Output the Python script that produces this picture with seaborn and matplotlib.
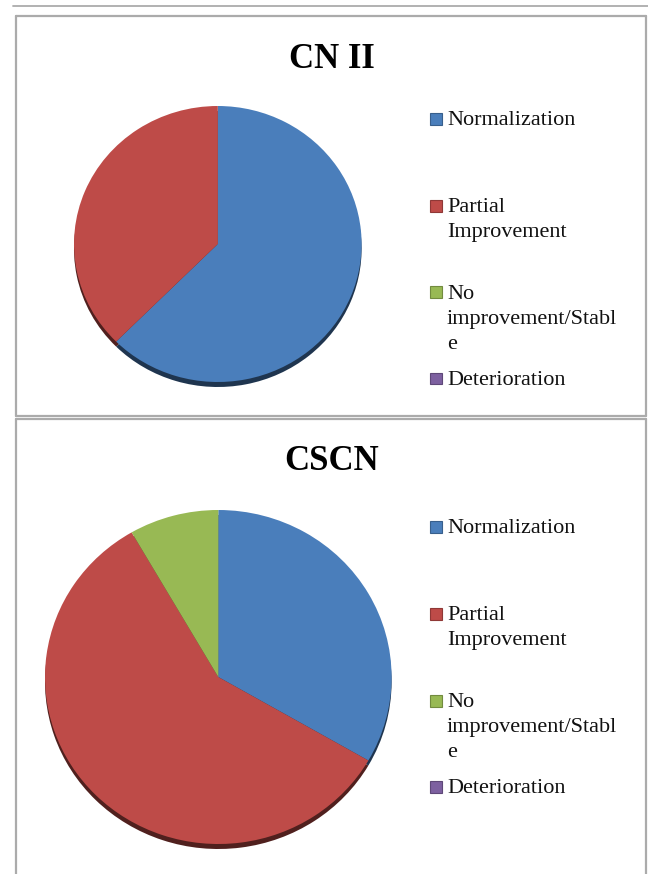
import matplotlib
matplotlib.use("Agg")
import matplotlib.pyplot as plt
from matplotlib.patches import Rectangle
from matplotlib.lines import Line2D
import seaborn as sns

# ── Data ──────────────────────────────────────────────
categories = ["Normalization", "Partial Improvement",
              "No improvement/Stable", "Deterioration"]
legend_lines = [["Normalization"],
                ["Partial", "Improvement"],
                ["No", "improvement/Stabl", "e"],
                ["Deterioration"]]
titles = ["CN II", "CSCN"]
cn2_values = [5, 3, 0, 0]
cscn_values = [4, 7, 1, 0]

# ── Layout (pixels) ───────────────────────────────────
W, H = 648, 874
PIE_BOX = [(217.8, 244, 143.8, 138), (218.3, 677, 173.3, 167)]  # cx, cy, rx, ry
TITLE_BASE = [67.5, 470]
LEGEND_Y = [[118, 205, 292, 378], [526, 613, 700, 786]]
BORDER = "#ABABAB"

sns.set_theme(style="white")
plt.rcParams["font.family"] = ["Liberation Serif", "DejaVu Serif"]
palette = sns.color_palette(["#4A7EBB", "#BE4B48", "#98B954", "#7D60A0"])
shadow = [tuple(c * 0.42 for c in col) for col in palette]
edge = [tuple(c * 0.75 for c in col) for col in palette]


def fx(x):
    return x / W


def fy(y):
    return 1 - y / H


fig = plt.figure(figsize=(W / 100, H / 100), dpi=100)

for i, values in enumerate([cn2_values, cscn_values]):
    # ── pie ───────────────────────────────────────────
    cx, cy, rx, ry = PIE_BOX[i]
    pad = 1.06
    ax = fig.add_axes([fx(cx - rx * pad), fy(cy + ry * pad),
                       2 * rx * pad / W, 2 * ry * pad / H])
    ax.pie(values, colors=shadow, startangle=90, counterclock=False,
           center=(0, -5 / ry), wedgeprops=dict(linewidth=0))
    ax.pie(values, colors=palette, startangle=90, counterclock=False,
           wedgeprops=dict(linewidth=0))
    ax.set_aspect("auto")
    ax.set_xlim(-pad, pad)
    ax.set_ylim(-pad, pad)
    ax.axis("off")

    # ── title ─────────────────────────────────────────
    fig.text(fx(331.5), fy(TITLE_BASE[i]), titles[i], ha="center",
             va="baseline", fontsize=25, fontweight="bold", color="black")

    # ── legend ────────────────────────────────────────
    for j, lines in enumerate(legend_lines):
        y0 = LEGEND_Y[i][j]
        fig.patches.append(Rectangle((fx(429.5), fy(y0 + 6.5)), 12 / W, 12 / H,
                                     transform=fig.transFigure,
                                     facecolor=palette[j], edgecolor=edge[j],
                                     lw=0.8))
        for k, line in enumerate(lines):
            fig.text(fx(447), fy(y0 + 7 + 25 * k), line, ha="left",
                     va="baseline", fontsize=16, color="#111111")

# ── borders ───────────────────────────────────────────
def hline(y, x0, x1, lw=1.6):
    fig.add_artist(Line2D([fx(x0), fx(x1)], [fy(y), fy(y)],
                          transform=fig.transFigure, color=BORDER, lw=lw))


def vline(x, y0, y1, lw=1.6):
    fig.add_artist(Line2D([fx(x), fx(x)], [fy(y0), fy(y1)],
                          transform=fig.transFigure, color=BORDER, lw=lw))


hline(5.5, 13, 648, lw=1.3)
hline(15.7, 15.7, 646)
hline(416, 15.7, 646)
vline(15.7, 15.7, 416)
vline(646, 15.7, 416)
hline(418.8, 15.7, 646)
vline(15.7, 418.8, 874)
vline(646, 418.8, 874)

fig.savefig("out.png", dpi=100)
